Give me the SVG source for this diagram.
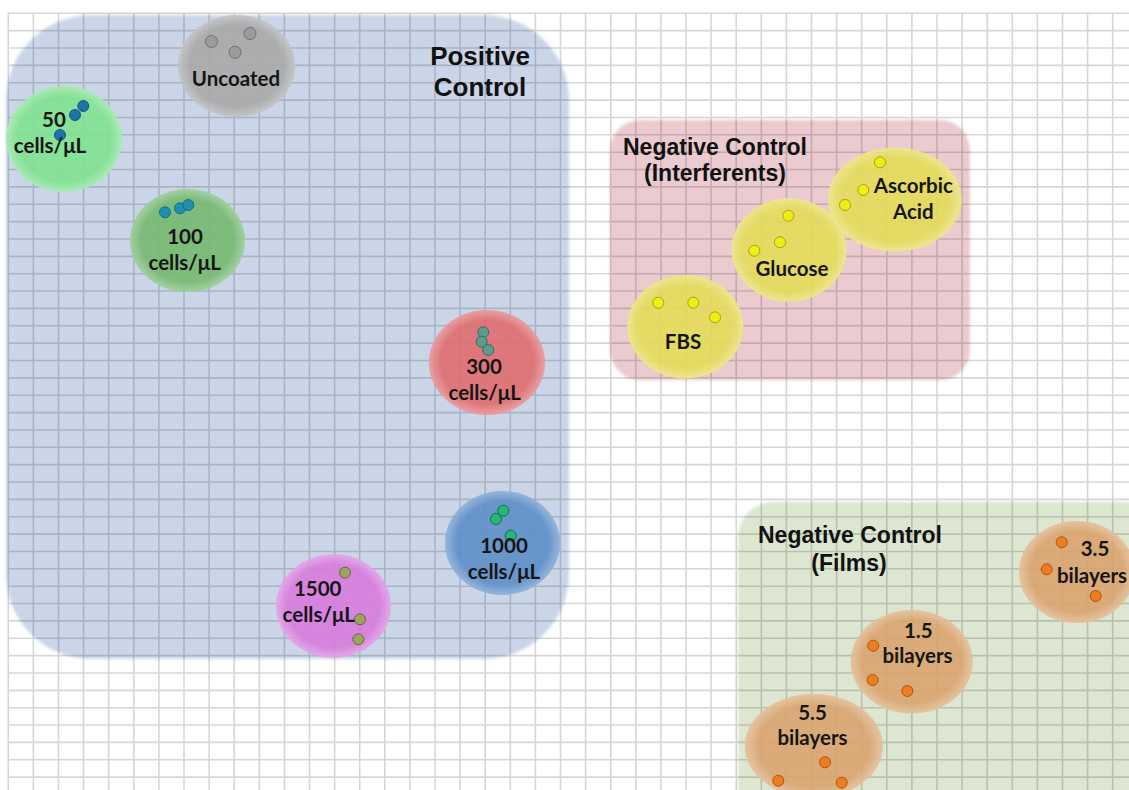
<svg xmlns="http://www.w3.org/2000/svg" width="1129" height="790" viewBox="0 0 1129 790">
<style>
.title{font-family:"Liberation Sans",Arial,sans-serif;font-weight:bold;fill:#111;text-anchor:middle}
.lbl{font-family:Lato,"Liberation Sans",sans-serif;font-weight:bold;font-size:20.5px;fill:#151515;text-anchor:middle}
.el{opacity:0.9}
.rim{fill:url(#rim)}
.grid{fill:none;stroke:#000;stroke-opacity:0.16;stroke-width:1.6}
.d-gray{fill:#9c9c9c;stroke:#707070;stroke-width:1}
.d-blue{fill:#1e74a6;stroke:#145a82;stroke-width:1}
.d-teal{fill:#2090b0;stroke:#156a85;stroke-width:1}
.d-sea{fill:#5b9a8c;stroke:#3a6a60;stroke-width:1}
.d-green{fill:#26b675;stroke:#147048;stroke-width:1}
.d-olive{fill:#9ca262;stroke:#6a6a3a;stroke-width:1}
.d-yel{fill:#f0ee10;stroke:#a8a020;stroke-width:1}
.d-or{fill:#f07c22;stroke:#a85510;stroke-width:1}
</style>
<defs>
<radialGradient id="rim" cx="0.5" cy="0.5" r="0.5">
<stop offset="0.8" stop-color="#fff" stop-opacity="0"/>
<stop offset="1" stop-color="#fff" stop-opacity="0.3"/>
</radialGradient>
<filter id="soft" x="-5%" y="-5%" width="110%" height="110%"><feGaussianBlur stdDeviation="1.5"/></filter>
</defs>
<rect width="1129" height="790" fill="#fff"/>
<g id="panels" filter="url(#soft)">
<rect id="panel-positive" x="6" y="15" width="563" height="644" rx="85" fill="#cad6e8"/>
<rect id="panel-interferents" x="610" y="120" width="360" height="260" rx="30" fill="#ebcbcf"/>
<rect id="panel-films" x="738" y="502" width="420" height="320" rx="35" fill="#dce6d0"/>
</g>
<path id="grid-lines" class="grid" d="M8.3 13V790M33.4 13V790M58.5 13V790M83.6 13V790M108.7 13V790M133.8 13V790M158.9 13V790M184 13V790M209.1 13V790M234.2 13V790M259.3 13V790M284.4 13V790M309.5 13V790M334.6 13V790M359.7 13V790M384.8 13V790M409.9 13V790M435 13V790M460.1 13V790M485.2 13V790M510.3 13V790M535.4 13V790M560.5 13V790M585.6 13V790M610.7 13V790M635.8 13V790M660.9 13V790M686 13V790M711.1 13V790M736.2 13V790M761.3 13V790M786.4 13V790M811.5 13V790M836.6 13V790M861.7 13V790M886.8 13V790M911.9 13V790M937 13V790M962.1 13V790M987.2 13V790M1012.3 13V790M1037.4 13V790M1062.5 13V790M1087.6 13V790M1112.7 13V790M8 13.3H1129M8 30.66H1129M8 48.02H1129M8 65.38H1129M8 82.74H1129M8 100.1H1129M8 117.46H1129M8 134.82H1129M8 152.18H1129M8 169.54H1129M8 186.9H1129M8 204.26H1129M8 221.62H1129M8 238.98H1129M8 256.34H1129M8 273.7H1129M8 291.06H1129M8 308.42H1129M8 325.78H1129M8 343.14H1129M8 360.5H1129M8 377.86H1129M8 395.22H1129M8 412.58H1129M8 429.94H1129M8 447.3H1129M8 464.66H1129M8 482.02H1129M8 499.38H1129M8 516.74H1129M8 534.1H1129M8 551.46H1129M8 568.82H1129M8 586.18H1129M8 603.54H1129M8 620.9H1129M8 638.26H1129M8 655.62H1129M8 672.98H1129M8 690.34H1129M8 707.7H1129M8 725.06H1129M8 742.42H1129M8 759.78H1129M8 777.14H1129"/>
<g id="connectors"></g>
<g id="titles">
<text class="title" font-size="26" x="480" y="64.5">Positive</text>
<text class="title" font-size="26" x="480" y="95.5">Control</text>
<text class="title" font-size="23" x="715" y="155">Negative Control</text>
<text class="title" font-size="23" x="715" y="181">(Interferents)</text>
<text class="title" font-size="23" x="850" y="543">Negative Control</text>
<text class="title" font-size="23" x="849" y="571">(Films)</text>
</g>
<g id="uncoated">
<ellipse class="el" cx="236.5" cy="66" rx="58.5" ry="51" fill="#a8a8a8"/>
<ellipse class="rim" cx="236.5" cy="66" rx="58.5" ry="51"/>
<circle class="d-gray" cx="211.5" cy="41.5" r="6"/><circle class="d-gray" cx="250" cy="33.5" r="6"/><circle class="d-gray" cx="235" cy="52.3" r="6"/>
<text class="lbl" x="236" y="86">Uncoated</text>
</g>
<g id="c50">
<ellipse class="el" cx="64" cy="139" rx="58" ry="53" fill="#7fe290"/>
<ellipse class="rim" cx="64" cy="139" rx="58" ry="53"/>
<circle class="d-blue" cx="83.3" cy="106" r="5.5"/><circle class="d-blue" cx="75" cy="115" r="5.5"/><circle class="d-blue" cx="60" cy="135" r="5.5"/>
<text class="lbl" x="54" y="127">50</text>
<text class="lbl" x="50" y="153">cells/μL</text>
</g>
<g id="c100">
<ellipse class="el" cx="187.5" cy="240.5" rx="57.5" ry="51.5" fill="#74b96f"/>
<ellipse class="rim" cx="187.5" cy="240.5" rx="57.5" ry="51.5"/>
<circle class="d-teal" cx="165" cy="212.3" r="5.5"/><circle class="d-teal" cx="180" cy="208.3" r="5.5"/><circle class="d-teal" cx="188.3" cy="205" r="5.5"/>
<text class="lbl" x="185" y="243.5">100</text>
<text class="lbl" x="184.7" y="269.5">cells/μL</text>
</g>
<g id="c300">
<ellipse class="el" cx="487" cy="362.5" rx="58" ry="52.5" fill="#e06d6f"/>
<ellipse class="rim" cx="487" cy="362.5" rx="58" ry="52.5"/>
<circle class="d-sea" cx="483.3" cy="332.3" r="5.5"/><circle class="d-sea" cx="481.7" cy="341.7" r="5.5"/><circle class="d-sea" cx="488.3" cy="350" r="5.5"/>
<text class="lbl" x="484" y="374">300</text>
<text class="lbl" x="484.7" y="400">cells/μL</text>
</g>
<g id="c1000">
<ellipse class="el" cx="502.5" cy="543" rx="57.5" ry="52" fill="#5d8fc8"/>
<ellipse class="rim" cx="502.5" cy="543" rx="57.5" ry="52"/>
<circle class="d-green" cx="503.3" cy="510.7" r="5.5"/><circle class="d-green" cx="496" cy="519" r="5.5"/><circle class="d-green" cx="510.7" cy="535.7" r="5.5"/>
<text class="lbl" x="504" y="552.5">1000</text>
<text class="lbl" x="504" y="578.5">cells/μL</text>
</g>
<g id="c1500">
<ellipse class="el" cx="333.5" cy="606" rx="57.5" ry="51.7" fill="#d77bdd"/>
<ellipse class="rim" cx="333.5" cy="606" rx="57.5" ry="51.7"/>
<circle class="d-olive" cx="345" cy="572.7" r="5.5"/><circle class="d-olive" cx="360" cy="619.3" r="5.5"/><circle class="d-olive" cx="358.3" cy="639.3" r="5.5"/>
<text class="lbl" x="317.7" y="596">1500</text>
<text class="lbl" x="318.8" y="621.7">cells/μL</text>
</g>
<g id="fbs">
<ellipse class="el" cx="685.3" cy="326.7" rx="58" ry="51.7" fill="#e4dd58"/>
<ellipse class="rim" cx="685.3" cy="326.7" rx="58" ry="51.7"/>
<circle class="d-yel" cx="658.3" cy="302.7" r="5.5"/><circle class="d-yel" cx="693.3" cy="302.7" r="5.5"/><circle class="d-yel" cx="715" cy="317.3" r="5.5"/>
<text class="lbl" x="683" y="349.3">FBS</text>
</g>
<g id="glucose">
<ellipse class="el" cx="789" cy="250" rx="57.5" ry="51.7" fill="#e4dd58"/>
<ellipse class="rim" cx="789" cy="250" rx="57.5" ry="51.7"/>
<circle class="d-yel" cx="788.3" cy="215.7" r="5.5"/><circle class="d-yel" cx="780" cy="242.3" r="5.5"/><circle class="d-yel" cx="754.3" cy="250.7" r="5.5"/>
<text class="lbl" x="792" y="276">Glucose</text>
</g>
<g id="ascorbic">
<ellipse class="el" cx="894.7" cy="199.5" rx="67" ry="52" fill="#e4dd58"/>
<ellipse class="rim" cx="894.7" cy="199.5" rx="67" ry="52"/>
<circle class="d-yel" cx="880" cy="162.3" r="5.5"/><circle class="d-yel" cx="863.3" cy="190" r="5.5"/><circle class="d-yel" cx="845" cy="205" r="5.5"/>
<text class="lbl" x="913.3" y="193.3">Ascorbic</text>
<text class="lbl" x="913.3" y="219">Acid</text>
</g>
<g id="b35">
<ellipse class="el" cx="1077" cy="572" rx="58" ry="51" fill="#d9a46f"/>
<ellipse class="rim" cx="1077" cy="572" rx="58" ry="51"/>
<circle class="d-or" cx="1061.7" cy="542.3" r="5.5"/><circle class="d-or" cx="1046.7" cy="569.3" r="5.5"/><circle class="d-or" cx="1095.7" cy="596" r="5.5"/>
<text class="lbl" x="1095" y="555.7">3.5</text>
<text class="lbl" x="1092" y="582.7">bilayers</text>
</g>
<g id="b15">
<ellipse class="el" cx="911.7" cy="661.7" rx="61" ry="51.7" fill="#d9a46f"/>
<ellipse class="rim" cx="911.7" cy="661.7" rx="61" ry="51.7"/>
<circle class="d-or" cx="873.3" cy="645.7" r="5.5"/><circle class="d-or" cx="872.7" cy="680" r="5.5"/><circle class="d-or" cx="907.3" cy="691" r="5.5"/>
<text class="lbl" x="918.3" y="637.7">1.5</text>
<text class="lbl" x="917.5" y="662.7">bilayers</text>
</g>
<g id="b55">
<ellipse class="el" cx="813.8" cy="746" rx="69" ry="52" fill="#d9a46f"/>
<ellipse class="rim" cx="813.8" cy="746" rx="69" ry="52"/>
<circle class="d-or" cx="825" cy="762.3" r="5.5"/><circle class="d-or" cx="778.3" cy="780.7" r="5.5"/><circle class="d-or" cx="841.7" cy="782.7" r="5.5"/>
<text class="lbl" x="812.5" y="720">5.5</text>
<text class="lbl" x="812.5" y="745">bilayers</text>
</g>
</svg>
